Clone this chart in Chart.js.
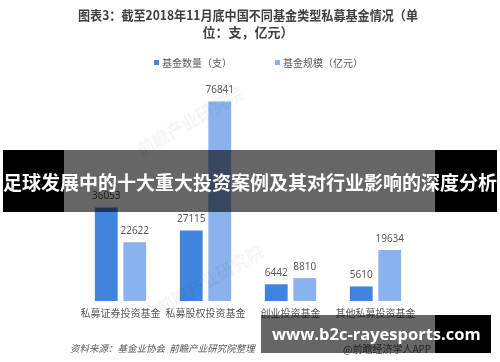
<!DOCTYPE html>
<html lang="zh">
<head>
<meta charset="UTF-8">
<title>私募基金情况</title>
<style>
  body { margin: 0; background: #fff; }
  #wrap { position: relative; width: 500px; height: 362px; overflow: hidden; font-family: "Noto Sans CJK SC", "Noto Sans", sans-serif; }
  #chart { position: absolute; left: 0; top: 0; }
  #legend { position: absolute; left: 154px; top: 55px; font-size: 10px; color: #595959; white-space: nowrap; }
  #legend span.item { display: inline-block; width: 121px; }
  #legend i { display: inline-block; width: 5px; height: 5px; margin-right: 3px; vertical-align: 2px; }
  .wm { position: absolute; font-size: 17px; font-weight: bold; color: rgba(0,0,0,0.045); transform: rotate(-30deg); white-space: nowrap; }
  #source { position: absolute; left: 70px; top: 341px; font-size: 9.5px; font-style: italic; color: #595959; white-space: nowrap; }
  #app { position: absolute; left: 343px; top: 341px; font-size: 10px; color: #595959; white-space: nowrap; }
  .band { position: absolute; }
  .band .shade { position: absolute; top: 0; bottom: 0; background: rgba(0,0,0,0.6); }
  .band .txt { position: absolute; left: 0; right: 0; color: #fff; font-weight: bold; text-align: center; white-space: nowrap; }
</style>
</head>
<body>
<div id="wrap">
  <canvas id="chart" width="500" height="362"></canvas>
  <div id="legend"></div>
  <div class="wm" style="left:130px; top:108px;">前瞻产业研究院</div>
  <div class="wm" style="left:150px; top:266px;">前瞻产业研究院</div>
  <div id="source">资料来源：基金业协会&nbsp; 前瞻产业研究院整理</div>
  <div id="app">@前瞻经济学人APP</div>
  <div class="band" style="left:3px; top:150px; width:494px; height:62px;">
    <div style="position:absolute;left:0;top:0;width:61px;height:62px;background:#000"></div>
    <div class="shade" style="left:61px; width:371px;"></div>
    <div style="position:absolute;left:432px;top:0;width:62px;height:62px;background:#000"></div>
    <div class="txt" style="top:20px; font-size:19px; line-height:24px;">足球发展中的十大重大投资案例及其对行业影响的深度分析</div>
  </div>
  <div class="band" style="left:261px; top:315px; width:230px; height:38px;">
    <div class="shade" style="left:0; width:174px;"></div>
    <div style="position:absolute;left:174px;top:0;width:56px;height:38px;background:#000"></div>
    <div class="txt" style="left:11px; right:auto; top:7px; font-family:'Open Sans','Noto Sans',sans-serif; font-size:16.5px; line-height:24px;">www.b2c-rayesports.com</div>
  </div>
</div>

<script src="https://cdn.jsdelivr.net/npm/chart.js@4.4.0/dist/chart.umd.min.js"></script>
<script>
var categories = ['私募证券投资基金', '私募股权投资基金', '创业投资基金', '其他私募投资基金'];
var fundCount = [36053, 27115, 6442, 5610];
var fundScale = [22622, 76841, 8810, 19634];
var seriesNames = ['基金数量（支）', '基金规模（亿元）'];
var seriesColors = ['#4084E0', '#8AB2EE'];
var titleLines = ['图表3：截至2018年11月底中国不同基金类型私募基金情况（单', '位：支，亿元）'];

// html legend, built from the series names / colours
var legendHtml = '';
seriesNames.forEach(function (name, i) {
    legendHtml += '<span class="item"><i style="background:' + seriesColors[i] + '"></i>' + name + '</span>';
});
document.getElementById('legend').innerHTML = legendHtml;

// numbers above each bar
var barLabels = {
    id: 'barLabels',
    afterDatasetsDraw: function (chart) {
        var ctx = chart.ctx;
        ctx.save();
        ctx.font = '10px "Noto Sans", sans-serif';
        ctx.fillStyle = '#595959';
        ctx.textAlign = 'center';
        ctx.textBaseline = 'middle';
        chart.data.datasets.forEach(function (ds, i) {
            chart.getDatasetMeta(i).data.forEach(function (bar, j) {
                ctx.fillText(ds.data[j], bar.x, bar.y - 11);
            });
        });
        ctx.restore();
    }
};

var chart = new Chart(document.getElementById('chart').getContext('2d'), {
    type: 'bar',
    data: {
        labels: categories,
        datasets: [
            { label: seriesNames[0], data: fundCount, backgroundColor: seriesColors[0] },
            { label: seriesNames[1], data: fundScale, backgroundColor: seriesColors[1] }
        ]
    },
    options: {
        responsive: false,
        animation: false,
        layout: { padding: { left: 78, right: 82, top: 0, bottom: 37 } },
        datasets: { bar: { categoryPercentage: 0.67, barPercentage: 0.8 } },
        plugins: {
            legend: { display: false },
            tooltip: { enabled: false },
            title: {
                display: true,
                text: titleLines,
                color: '#404040',
                font: { size: 13, weight: 'bold', family: '"Noto Sans CJK SC", sans-serif', lineHeight: 1.27 },
                padding: { top: 7, bottom: 45 }
            }
        },
        scales: {
            x: {
                grid: { display: false, drawTicks: false },
                border: { display: false },
                ticks: {
                    color: '#595959', padding: 6, maxRotation: 0, minRotation: 0, autoSkip: false,
                    font: { size: 10, family: '"Noto Sans CJK SC", sans-serif' }
                }
            },
            y: { display: false, min: 0, max: 83200 }
        }
    },
    plugins: [barLabels]
});
</script>
</body>
</html>
